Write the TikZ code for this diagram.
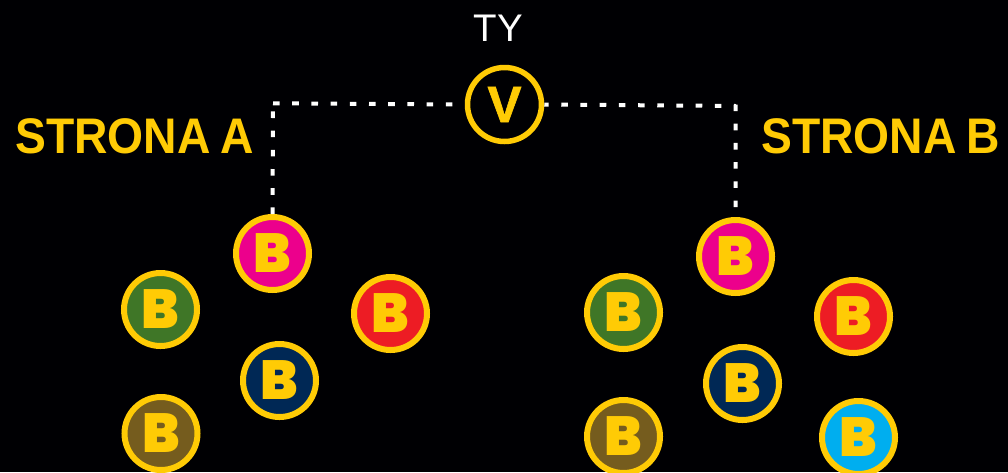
\documentclass[tikz,border=0pt]{standalone}
\usepackage{fontspec}
\setmainfont{Liberation Sans}
\newfontfamily\blk{Poppins Black}
\newfontfamily\vfont[FakeBold=1.2]{Liberation Sans Bold}
\newfontfamily\sidefont[FakeStretch=0.925,WordSpace=0.8]{Liberation Sans Bold}
\definecolor{gold}{HTML}{FFCB05}
\definecolor{cpink}{HTML}{EC008C}
\definecolor{cred}{HTML}{ED1C24}
\definecolor{cgreen}{HTML}{3F7627}
\definecolor{cnavy}{HTML}{002855}
\definecolor{cbrown}{HTML}{755C1E}
\definecolor{ccyan}{HTML}{00AEEF}
\definecolor{bg}{HTML}{000003}
\tikzset{
  x=1pt,y=-1pt,
  person/.style={circle,draw=gold,line width=6pt,minimum size=73pt,inner sep=0pt,text=gold,
    font=\blk\fontsize{55}{55}\selectfont},
  you/.style={circle,draw=gold,line width=5.5pt,minimum size=74pt,inner sep=0pt,text=gold,
    font=\vfont\fontsize{51}{51}\selectfont},
  side/.style={text=gold,inner sep=0pt,font=\sidefont\fontsize{50}{50}\selectfont},
  link/.style={white,line width=4pt,dash pattern=on 6.6pt off 12.6pt},
}
\begin{document}
\begin{tikzpicture}
\fill[bg] (0,0) rectangle (1008,472);
\useasboundingbox (0,0) rectangle (1008,472);
\node[you] (v) at (504.5,104.5) {V};
\node[person,fill=cpink] (a1) at (272.5,253.5) {B};
\node[person,fill=cgreen] (a2) at (160.5,309.5) {B};
\node[person,fill=cred] (a3) at (390.5,313.5) {B};
\node[person,fill=cnavy] (a4) at (279.5,380.5) {B};
\node[person,fill=cbrown] (a5) at (161,433.5) {B};
\node[person,fill=cpink] (b1) at (735.5,256.5) {B};
\node[person,fill=cgreen] (b2) at (623.5,312.5) {B};
\node[person,fill=cred] (b3) at (853.5,316.5) {B};
\node[person,fill=cnavy] (b4) at (742.5,383.5) {B};
\node[person,fill=cbrown] (b5) at (623.5,436.5) {B};
\node[person,fill=ccyan] (b6) at (858.5,437.5) {B};
\node[text=white,inner sep=0pt,font=\fontsize{38.5}{38.5}\selectfont,anchor=base] (ty) at (498.5,41) {TY};
\node[side,anchor=base west] (sa) at (15,153) {STRONA A};
\node[side,anchor=base west] (sb) at (761,153) {STRONA B};
\coordinate (ca) at (273,103.3);
\coordinate (cb) at (735.7,104.5);
\draw[link] (ca) -- (v.west);
\draw[link] (a1.north) -- (ca);
\draw[link,dash phase=2.2pt] (v.east) -- (736,106);
\draw[link] (cb) -- (b1.north);
\end{tikzpicture}
\end{document}
